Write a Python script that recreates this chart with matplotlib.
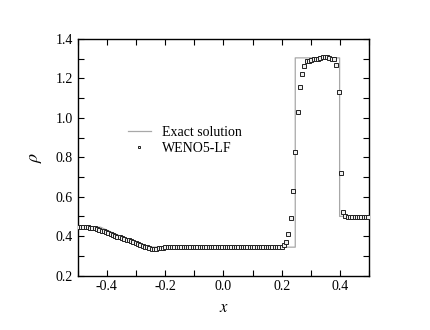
import numpy as np
import matplotlib
matplotlib.use("Agg")
import matplotlib.pyplot as plt
from matplotlib.ticker import MultipleLocator

# ---- data ----
n_cells = 128
x_min, x_max = -0.5, 0.5

# Exact solution (Lax problem) key points
exact_x = [-0.5, -0.421, -0.38, -0.34, -0.30, -0.261, 0.246, 0.246, 0.398, 0.398, 0.5]
exact_rho = [0.445, 0.445, 0.417, 0.391, 0.367, 0.344, 0.344, 1.304, 1.304, 0.500, 0.500]

# WENO5-LF numerical density at cell centres
weno_rho = [
    0.445, 0.445, 0.445, 0.445, 0.444, 0.443, 0.442, 0.439, 0.436, 0.432,
    0.428, 0.424, 0.4195, 0.415, 0.411, 0.406, 0.402, 0.398, 0.394, 0.390,
    0.386, 0.382, 0.378, 0.3735, 0.369, 0.365, 0.360, 0.356, 0.351, 0.347,
    0.343, 0.340, 0.337, 0.336, 0.336, 0.338, 0.340, 0.342, 0.343,
    0.345, 0.346, 0.346, 0.345, 0.344, 0.345, 0.346, 0.347, 0.346, 0.345,
    0.344, 0.344, 0.345, 0.346, 0.346, 0.345, 0.344, 0.344, 0.345, 0.346,
    0.347, 0.346, 0.345, 0.344, 0.344, 0.345, 0.346, 0.346, 0.345, 0.344,
    0.344, 0.345, 0.346, 0.347, 0.346, 0.345, 0.344, 0.344, 0.345, 0.346,
    0.346, 0.345, 0.344, 0.344, 0.345, 0.346, 0.346, 0.345, 0.344,
    0.343, 0.347, 0.356, 0.372, 0.410, 0.492, 0.631, 0.826, 1.027, 1.157,
    1.221, 1.264, 1.289,
    1.290, 1.294, 1.296, 1.298, 1.300, 1.303, 1.306, 1.308, 1.306, 1.303,
    1.300, 1.296,
    1.270, 1.129, 0.721, 0.520,
    0.500, 0.498, 0.497, 0.497, 0.497, 0.497, 0.497, 0.497, 0.497, 0.497, 0.497,
]

dx = (x_max - x_min) / n_cells
weno_x = x_min + dx * (np.arange(len(weno_rho)) + 0.5)

# ---- plot ----
plt.rcParams['font.family'] = ['Liberation Serif', 'DejaVu Serif']
plt.rcParams['mathtext.fontset'] = 'stix'

fig = plt.figure(figsize=(4.31, 3.30), dpi=100)
ax = fig.add_axes([0.180, 0.165, 0.677, 0.717])

ax.plot(exact_x, exact_rho, color='#a8a8a8', lw=0.9, label='Exact solution', zorder=2)
ax.plot(weno_x, weno_rho, ls='none', marker='s', ms=2.6, mfc='#f0f0f0', mec='#222222',
        mew=0.7, label='WENO5-LF', zorder=3)

ax.set_xlim(-0.5, 0.5)
ax.set_ylim(0.2, 1.4)
ax.xaxis.set_major_locator(MultipleLocator(0.2))
ax.xaxis.set_minor_locator(MultipleLocator(0.1))
ax.yaxis.set_major_locator(MultipleLocator(0.2))
ax.yaxis.set_minor_locator(MultipleLocator(0.1))
ax.tick_params(which='both', direction='in', top=True, right=True, labelsize=10, width=0.8)
ax.tick_params(which='major', length=4)
ax.tick_params(which='minor', length=4)
ax.set_xticklabels([f'{v:.1f}' for v in ax.get_xticks()])
ax.set_yticklabels([f'{v:.1f}' for v in ax.get_yticks()])
for s in ax.spines.values():
    s.set_linewidth(1.0)

ax.set_xlabel(r'$x$', fontsize=12, labelpad=5)
ax.set_ylabel(r'$\rho$', fontsize=13, labelpad=8)

leg = ax.legend(loc='upper left', bbox_to_anchor=(0.15, 0.66), frameon=False, fontsize=10,
                handlelength=1.6, handletextpad=0.8, labelspacing=0.2, borderpad=0,
                markerscale=0.7)

fig.savefig('out.png', dpi=100)
